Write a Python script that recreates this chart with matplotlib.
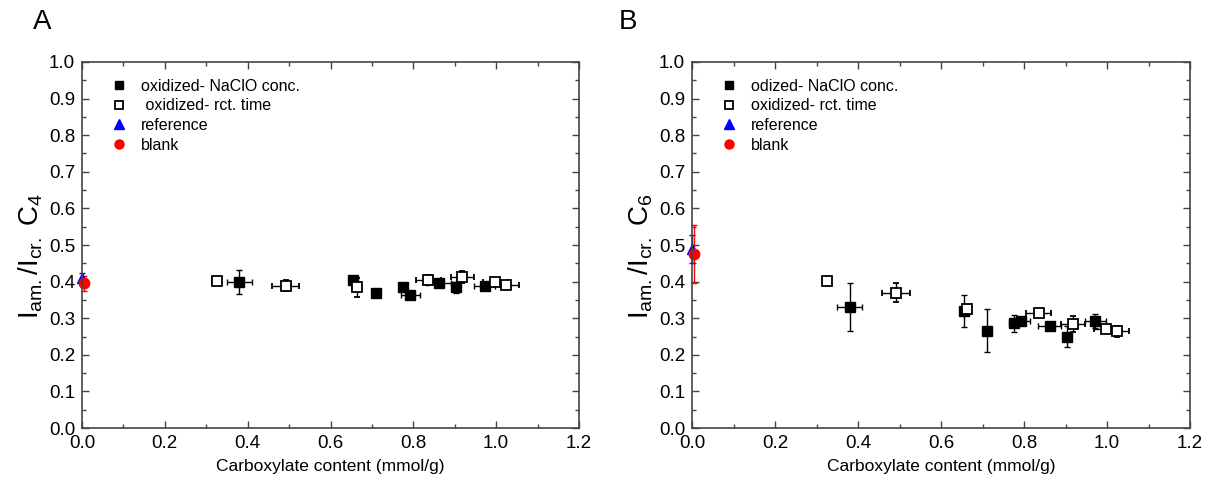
import matplotlib
matplotlib.use("Agg")
import matplotlib.pyplot as plt
from matplotlib.ticker import MultipleLocator

plt.rcParams['font.family'] = ['Liberation Sans', 'DejaVu Sans']
plt.rcParams['mathtext.fontset'] = 'custom'
plt.rcParams['mathtext.rm'] = 'Liberation Sans'
plt.rcParams['mathtext.it'] = 'Liberation Sans'

# ---- data ----
conc_x = [0.38, 0.655, 0.71, 0.775, 0.793, 0.862, 0.903, 0.972]
conc_xerr = [0.03, 0.008, 0.005, 0.01, 0.022, 0.028, 0.01, 0.026]
time_x = [0.325, 0.492, 0.663, 0.836, 0.918, 0.998, 1.024]
time_xerr = [0.01, 0.033, 0.01, 0.03, 0.028, 0.03, 0.03]

# Panel A (C4)
a_conc_y = [0.399, 0.404, 0.368, 0.386, 0.364, 0.395, 0.384, 0.388]
a_conc_yerr = [0.033, 0.008, 0.005, 0.01, 0.008, 0.01, 0.016, 0.008]
a_time_y = [0.402, 0.389, 0.384, 0.405, 0.413, 0.398, 0.390]
a_time_yerr = [0.006, 0.015, 0.025, 0.014, 0.016, 0.008, 0.008]
a_ref = (0.0, 0.411, 0.012)
a_blank = (0.004, 0.395, 0.02)

# Panel B (C6)
b_conc_y = [0.330, 0.320, 0.266, 0.286, 0.293, 0.279, 0.250, 0.293]
b_conc_yerr = [0.065, 0.044, 0.058, 0.023, 0.01, 0.008, 0.03, 0.019]
b_time_y = [0.402, 0.370, 0.324, 0.315, 0.284, 0.270, 0.265]
b_time_yerr = [0.005, 0.025, 0.008, 0.008, 0.023, 0.01, 0.015]
b_ref = (0.0, 0.488, 0.038)
b_blank = (0.004, 0.475, 0.08)

xticks = [0.0, 0.2, 0.4, 0.6, 0.8, 1.0, 1.2]
yticks = [0.0, 0.1, 0.2, 0.3, 0.4, 0.5, 0.6, 0.7, 0.8, 0.9, 1.0]

fig = plt.figure(figsize=(12.13, 4.94), dpi=100)
W, H = 1213, 494
axA = fig.add_axes([82 / W, (H - 428) / H, 497 / W, 366 / H])
axB = fig.add_axes([692 / W, (H - 428) / H, 498 / W, 366 / H])


def draw(ax, cy, cye, ty, tye, ref, blank, labels, sub):
    ekw = dict(elinewidth=1.0, capsize=2.5, capthick=1.0, linestyle='none')
    ax.errorbar(conc_x, cy, xerr=conc_xerr, yerr=cye, fmt='s', color='black',
                ms=7, mfc='black', mec='black', ecolor='black', **ekw)
    ax.errorbar(time_x, ty, xerr=time_xerr, yerr=tye, fmt='s', color='black',
                ms=7, mfc='white', mec='black', mew=1.3, ecolor='black', **ekw)
    ax.errorbar([ref[0]], [ref[1]], yerr=[ref[2]], fmt='^', color='blue',
                ms=7.5, mfc='blue', mec='blue', ecolor='blue', clip_on=False, **ekw)
    ax.errorbar([blank[0]], [blank[1]], yerr=[blank[2]], fmt='o', color='red',
                ms=7.5, mfc='red', mec='red', ecolor='red', clip_on=False, **ekw)
    ax.set_xlim(0, 1.2)
    ax.set_ylim(0, 1.0)
    ax.set_xticks(xticks)
    ax.set_yticks(yticks)
    ax.xaxis.set_minor_locator(MultipleLocator(0.1))
    ax.yaxis.set_minor_locator(MultipleLocator(0.05))
    ax.tick_params(which='both', direction='in', top=True, right=True, labelsize=13.5,
                   color='#444444')
    ax.tick_params(axis='x', which='major', length=5, width=1, pad=5)
    ax.tick_params(axis='y', which='major', length=5, width=1, pad=5)
    ax.tick_params(which='minor', length=3, width=1)
    ax.set_xticklabels([f'{v:.1f}' for v in xticks])
    ax.set_yticklabels([f'{v:.1f}' for v in yticks])
    for s in ax.spines.values():
        s.set_linewidth(1.2)
        s.set_color('#444444')
    ax.set_xlabel('Carboxylate content (mmol/g)', fontsize=12.5, labelpad=5)
    ax.set_ylabel(r'$\mathregular{I_{am.}/I_{cr.}\ C_{' + sub + '}}$', fontsize=20)
    ax.yaxis.set_label_coords(-0.075, 0.47)
    h1m = plt.Line2D([], [], marker='s', ls='none', color='black', ms=6)
    h2m = plt.Line2D([], [], marker='s', ls='none', mfc='white', mec='black', ms=6, mew=1.3)
    h3m = plt.Line2D([], [], marker='^', ls='none', color='blue', ms=7)
    h4m = plt.Line2D([], [], marker='o', ls='none', color='red', ms=6.5)
    ax.legend([h1m, h2m, h3m, h4m], labels, loc='upper left', frameon=False,
              fontsize=11.5, handlelength=1.0, handletextpad=0.9, labelspacing=0.29,
              bbox_to_anchor=(0.035, 0.985), borderaxespad=0.3)


draw(axA, a_conc_y, a_conc_yerr, a_time_y, a_time_yerr, a_ref, a_blank,
     ['oxidized- NaClO conc.', ' oxidized- rct. time', 'reference', 'blank'], '4')
draw(axB, b_conc_y, b_conc_yerr, b_time_y, b_time_yerr, b_ref, b_blank,
     ['odized- NaClO conc.', 'oxidized- rct. time', 'reference', 'blank'], '6')

fig.text(42 / W, 1 - 22 / H, 'A', fontsize=20, ha='center', va='center')
fig.text(628 / W, 1 - 22 / H, 'B', fontsize=20, ha='center', va='center')

fig.savefig('out.png', dpi=100)
